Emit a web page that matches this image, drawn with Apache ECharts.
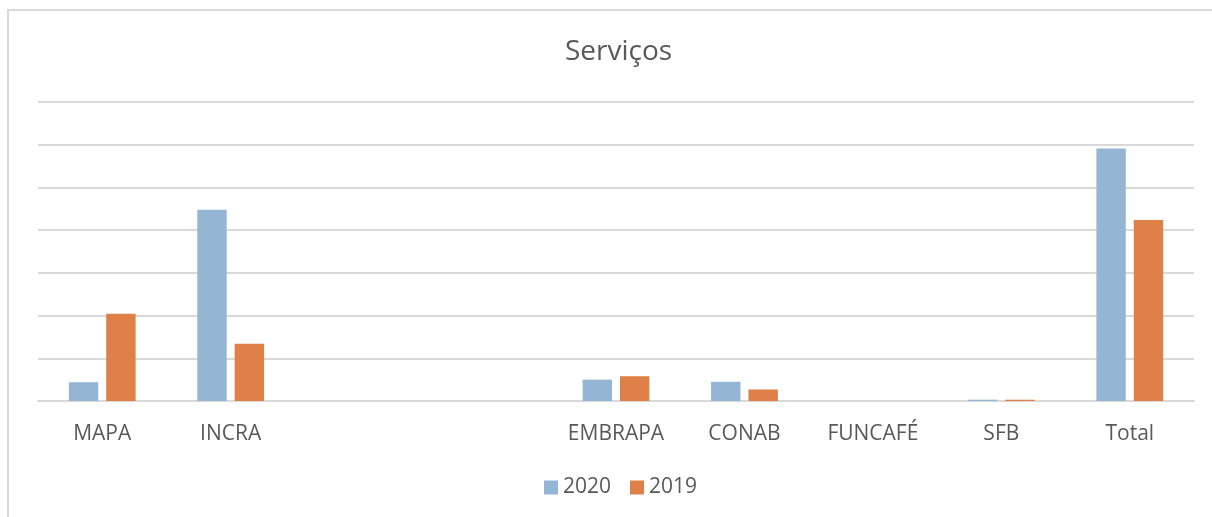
<!DOCTYPE html>
<html>
<head>
<meta charset="UTF-8">
<title>Serviços</title>
<script type="text/javascript" src="https://cdn.jsdelivr.net/npm/echarts@6/dist/echarts.min.js"></script>
</head>
<body style="margin:0">
<div id="main" style="width:1212px;height:517px"></div>
<script type="text/javascript">
// dados (unidade = uma linha de grade)
var categorias = ['MAPA', 'INCRA', ' ', '  ', 'EMBRAPA', 'CONAB', 'FUNCAFÉ', 'SFB', 'Total'];
var valores2020 = [0.44, 4.48, null, null, 0.50, 0.45, 0, 0.03, 5.91];
var valores2019 = [2.04, 1.34, null, null, 0.58, 0.27, 0, 0.03, 4.24];

var myChart = echarts.init(document.getElementById('main'));
var fonte = '"Open Sans", sans-serif';

var option = {
    backgroundColor: '#ffffff',
    animation: false,
    graphic: [{
        type: 'rect',
        shape: { x: 8, y: 10, width: 1230, height: 530 },
        style: { fill: 'none', stroke: '#d9d9d9', lineWidth: 2 }
    }],
    title: {
        text: 'Serviços',
        left: 560,
        top: 33,
        textStyle: { color: '#595959', fontSize: 28, fontWeight: 'normal', fontFamily: fonte }
    },
    legend: {
        top: 472,
        left: 539,
        itemWidth: 14,
        itemHeight: 14,
        itemGap: 19,
        icon: 'rect',
        textStyle: { color: '#595959', fontSize: 21, fontFamily: fonte },
        data: ['2020', '2019']
    },
    grid: { left: 38, right: 18, top: 102, bottom: 116 },
    xAxis: {
        type: 'category',
        data: categorias,
        axisLine: { lineStyle: { color: '#d9d9d9', width: 2 } },
        axisTick: { show: false },
        axisLabel: { color: '#595959', fontSize: 21, fontFamily: fonte, margin: 23, interval: 0 }
    },
    yAxis: {
        type: 'value',
        min: 0,
        max: 7,
        interval: 1,
        axisLabel: { show: false },
        axisLine: { show: false },
        axisTick: { show: false },
        splitLine: { lineStyle: { color: '#d9d9d9', width: 2 } }
    },
    series: [
        {
            name: '2020',
            type: 'bar',
            data: valores2020,
            barCategoryGap: '48%',
            barGap: '27%',
            itemStyle: { color: '#95b5d4' }
        },
        {
            name: '2019',
            type: 'bar',
            data: valores2019,
            barCategoryGap: '48%',
            barGap: '27%',
            itemStyle: { color: '#de8047' }
        }
    ]
};

myChart.setOption(option);
</script>
</body>
</html>
